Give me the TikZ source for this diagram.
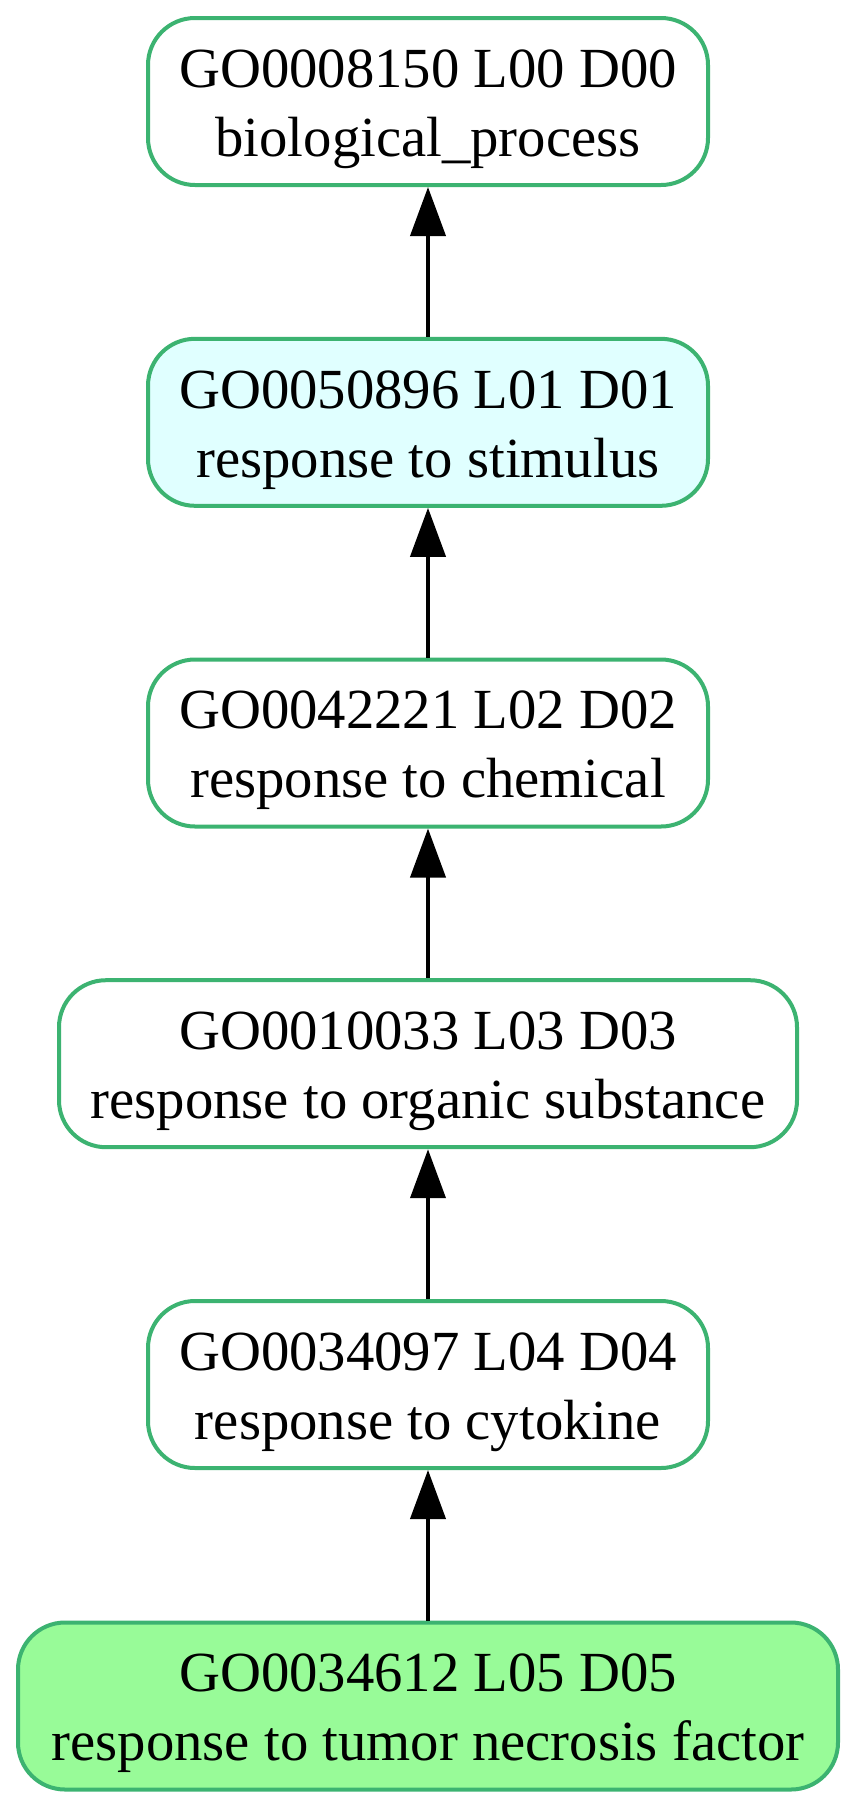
\documentclass[tikz,border=0pt]{standalone}
\usepackage{fontspec}
\setmainfont{Liberation Serif}
\usetikzlibrary{arrows.meta}
\definecolor{goborder}{HTML}{3CB371}
\definecolor{gocyan}{HTML}{E0FFFF}
\definecolor{gogreen}{HTML}{98FB98}
\newcommand{\firstline}{\rule{0pt}{53pt}}
\tikzset{
  gonode/.style={draw=goborder, line width=4pt, rounded corners=47pt, fill=white,
    minimum height=167pt, inner sep=0pt, align=center,
    font=\fontsize{56.7pt}{69pt}\selectfont},
  gowide/.style={minimum width=560pt},
  goedge/.style={line width=4pt, -{Triangle[length=49pt,width=35pt]}}
}
\begin{document}
\begin{tikzpicture}[x=1pt,y=-1pt]
\useasboundingbox (0,0) rectangle (856,1808);
\node[gonode, gowide] (n1) at (428,101.5) {\firstline GO0008150 L00 D00\\biological\_process};
\node[gonode, gowide, fill=gocyan] (n2) at (428,422.3) {\firstline GO0050896 L01 D01\\response to stimulus};
\node[gonode, gowide] (n3) at (428,743) {\firstline GO0042221 L02 D02\\response to chemical};
\node[gonode, minimum width=738pt] (n4) at (428,1063.7) {\firstline GO0010033 L03 D03\\response to organic substance};
\node[gonode, gowide] (n5) at (428,1384.5) {\firstline GO0034097 L04 D04\\response to cytokine};
\node[gonode, minimum width=820pt, fill=gogreen] (n6) at (428,1706) {\firstline GO0034612 L05 D05\\response to tumor necrosis factor};
\draw[goedge] (n2) -- (n1);
\draw[goedge] (n3) -- (n2);
\draw[goedge] (n4) -- (n3);
\draw[goedge] (n5) -- (n4);
\draw[goedge] (n6) -- (n5);
\end{tikzpicture}
\end{document}
